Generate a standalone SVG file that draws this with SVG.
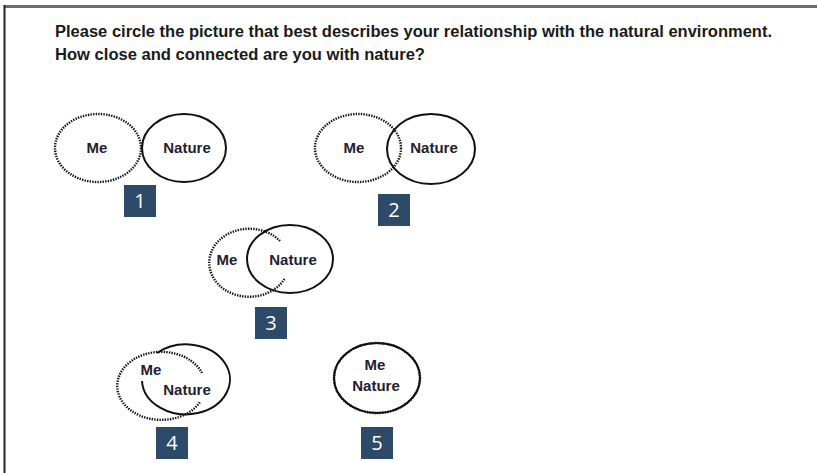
<svg xmlns="http://www.w3.org/2000/svg" width="817" height="473" viewBox="0 0 817 473">
<style>
.t{font-family:"Liberation Sans",Arial,sans-serif;font-weight:bold;fill:#1a1a1a}
.lbl{font-family:"Liberation Sans",Arial,sans-serif;font-weight:bold;font-size:15px;fill:#1f2030;text-anchor:middle}
.num{font-family:"Open Sans","Liberation Sans",sans-serif;font-size:20px;fill:#ffffff;text-anchor:middle}
.box{fill:#2d4a69}
.solid{fill:none;stroke:#111;stroke-width:2}
.dot{fill:none;stroke:#111;stroke-width:2.4;stroke-dasharray:1.4 1.2}
</style>
<rect x="0" y="0" width="817" height="473" fill="#ffffff"/>
<line x1="4" y1="6.5" x2="817" y2="6.5" stroke="#6e6e6e" stroke-width="3"/>
<line x1="4.5" y1="5" x2="4.5" y2="473" stroke="#222" stroke-width="2"/>
<text class="t" x="55" y="37" font-size="16" textLength="717" lengthAdjust="spacingAndGlyphs">Please circle the picture that best describes your relationship with the natural environment.</text>
<text class="t" x="55" y="60" font-size="16" textLength="370" lengthAdjust="spacingAndGlyphs">How close and connected are you with nature?</text>

<g id="option1">
<ellipse class="dot" cx="98" cy="148" rx="43" ry="34"/>
<ellipse class="solid" cx="184" cy="148" rx="42" ry="34"/>
<text class="lbl" x="97" y="153">Me</text>
<text class="lbl" x="187" y="153">Nature</text>
<rect class="box" x="124" y="185" width="32" height="32"/>
<text class="num" x="140" y="208">1</text>
</g>

<g id="option2">
<ellipse class="dot" cx="358" cy="148" rx="43" ry="34"/>
<ellipse class="solid" cx="431" cy="149" rx="44" ry="35"/>
<text class="lbl" x="354" y="153">Me</text>
<text class="lbl" x="434" y="153">Nature</text>
<rect class="box" x="378" y="194" width="32" height="32"/>
<text class="num" x="394" y="217">2</text>
</g>

<g id="option3">
<path class="dot" d="M280 241 A40 34 0 1 0 285 278"/>
<ellipse class="solid" cx="290" cy="259" rx="43" ry="34"/>
<text class="lbl" x="227" y="265">Me</text>
<text class="lbl" x="293" y="265">Nature</text>
<rect class="box" x="255" y="307" width="32" height="32"/>
<text class="num" x="271" y="330">3</text>
</g>

<g id="option4">
<path class="dot" d="M202 373 A44 34 0 1 0 200 402"/>
<path class="solid" d="M142 381 A44 35 0 1 0 157 353"/>
<text class="lbl" x="151" y="375">Me</text>
<text class="lbl" x="187" y="395">Nature</text>
<rect class="box" x="156" y="427" width="32" height="32"/>
<text class="num" x="172" y="450">4</text>
</g>

<g id="option5">
<ellipse class="solid" cx="377" cy="378" rx="43" ry="35"/>
<ellipse class="dot" cx="377" cy="378" rx="43" ry="35" stroke-width="3"/>
<text class="lbl" x="375" y="370">Me</text>
<text class="lbl" x="376" y="391">Nature</text>
<rect class="box" x="361" y="427" width="32" height="32"/>
<text class="num" x="377" y="450">5</text>
</g>

<g id="connectors"></g>
</svg>
